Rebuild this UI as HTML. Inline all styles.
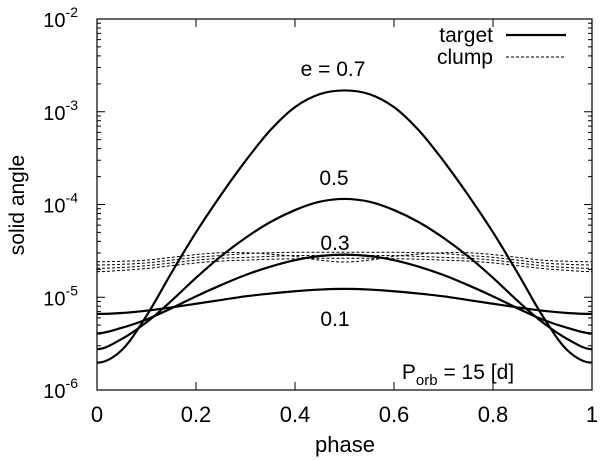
<!DOCTYPE html>
<html><head><meta charset="utf-8"><style>
html,body{margin:0;padding:0;background:#fff;}
svg{display:block;font-family:"Liberation Sans",sans-serif;}
</style></head><body>
<svg id="chart" width="600" height="460" viewBox="0 0 600 460" xmlns="http://www.w3.org/2000/svg"></svg>
<script>
const phases=[0,0.05,0.1,0.15,0.2,0.25,0.3,0.35,0.4,0.45,0.5,0.55,0.6,0.65,0.7,0.75,0.8,0.85,0.9,0.95,1];
// log10(solid angle), half orbit 0..0.5 (mirrored for 0.5..1)
const target07=[-5.705,-5.57,-5.20,-4.74,-4.30,-3.90,-3.53,-3.20,-2.95,-2.81,-2.77];
const target05=[-5.56,-5.45,-5.27,-5.04,-4.79,-4.56,-4.36,-4.19,-4.06,-3.97,-3.94];
const target03=[-5.39,-5.33,-5.24,-5.12,-4.99,-4.87,-4.76,-4.67,-4.60,-4.555,-4.54];
const target01=[-5.18,-5.17,-5.145,-5.11,-5.07,-5.03,-4.99,-4.96,-4.935,-4.917,-4.91];
const clump1=[-4.617,-4.612,-4.60,-4.57,-4.54,-4.52,-4.52,-4.535,-4.56,-4.60,-4.62];
const clump2=[-4.652,-4.645,-4.63,-4.60,-4.57,-4.55,-4.53,-4.52,-4.515,-4.515,-4.515];
const clump3=[-4.688,-4.68,-4.66,-4.63,-4.60,-4.58,-4.57,-4.56,-4.55,-4.55,-4.55];
const clump4=[-4.724,-4.71,-4.69,-4.66,-4.63,-4.61,-4.60,-4.59,-4.585,-4.58,-4.58];
const xTicks=[0,0.2,0.4,0.6,0.8,1];
const xTickLabels=["0","0.2","0.4","0.6","0.8","1"];
const yDecades=[-6,-5,-4,-3,-2];

const L=97,R=592,T=19,B=390;
const X=p=>L+(R-L)*p;
const Y=lg=>B-(B-T)*(lg+6)/4;
const NS="http://www.w3.org/2000/svg";
const svg=document.getElementById('chart');
function mk(tag,attrs,parent){const e=document.createElementNS(NS,tag);for(const k in attrs)e.setAttribute(k,attrs[k]);(parent||svg).appendChild(e);return e;}
function full(h){const r=h.slice();for(let i=h.length-2;i>=0;i--)r.push(h[i]);return r;}
function pathD(vals){
  const pts=phases.map((p,i)=>[X(p),Y(vals[i])]);
  const n=pts.length;
  const get=j=>{
    if(j<0){return [2*pts[0][0]-pts[-j][0],pts[-j][1]];}
    if(j>n-1){const k=2*(n-1)-j;return [2*pts[n-1][0]-pts[k][0],pts[k][1]];}
    return pts[j];
  };
  let d='M'+pts[0][0].toFixed(2)+','+pts[0][1].toFixed(2);
  for(let i=0;i<n-1;i++){
    const p0=get(i-1),p1=pts[i],p2=pts[i+1],p3=get(i+2);
    const c1=[p1[0]+(p2[0]-p0[0])/6,p1[1]+(p2[1]-p0[1])/6];
    const c2=[p2[0]-(p3[0]-p1[0])/6,p2[1]-(p3[1]-p1[1])/6];
    d+='C'+c1[0].toFixed(2)+','+c1[1].toFixed(2)+' '+c2[0].toFixed(2)+','+c2[1].toFixed(2)+' '+p2[0].toFixed(2)+','+p2[1].toFixed(2);
  }
  return d;
}
const frame=mk('rect',{x:L,y:T,width:R-L,height:B-T,fill:'none',stroke:'#000','stroke-width':1.2});


xTicks.forEach((t,i)=>{
  const tk=mk('path',{d:`M${X(t)},${B}v-8M${X(t)},${T}v8`,stroke:'#000','stroke-width':1});
  
  
  const lb=mk('text',{x:X(t),y:B+32,'font-size':22,'text-anchor':'middle'});
  lb.textContent=xTickLabels[i];
  
  
});
yDecades.forEach(dc=>{
  const y=Y(dc);
  const tk=mk('path',{d:`M${L},${y}h8M${R},${y}h-8`,stroke:'#000','stroke-width':1});
  
  
  const lb=mk('text',{x:L-19,y:y+8,'font-size':20,'text-anchor':'end'});
  lb.innerHTML='10<tspan dy="-10" font-size="14">'+dc+'</tspan>';
  
  
  if(dc<-2){for(let m=2;m<=9;m++){const yy=Y(dc+Math.log10(m));
    const mt=mk('path',{d:`M${L},${yy}h4M${R},${yy}h-4`,stroke:'#000','stroke-width':1});
    
    }}
});
[[target07,'target-e07'],[target05,'target-e05'],[target03,'target-e03'],[target01,'target-e01']].forEach(([s,n])=>{
  const p=mk('path',{d:pathD(full(s)),fill:'none',stroke:'#000','stroke-width':2.2});
  
  
});
[[clump1,'clump-1'],[clump2,'clump-2'],[clump3,'clump-3'],[clump4,'clump-4']].forEach(([s,n])=>{
  const p=mk('path',{d:pathD(full(s)),fill:'none',stroke:'#000','stroke-width':1,'stroke-dasharray':'3,2'});
  
  
});
function txt(x,y,s,name,anchor,size){const t=mk('text',{x:x,y:y,'font-size':size||21,'text-anchor':anchor||'middle'});t.innerHTML=s;
  
  return t;}
txt(333,76,'e = 0.7','label-e07');
txt(334,185,'0.5','label-e05');
txt(335,250,'0.3','label-e03');
txt(335,326,'0.1','label-e01');
txt(458,379,'P<tspan dy="6" font-size="15">orb</tspan><tspan dy="-6"> = 15 [d]</tspan>','period-label','middle',21);
txt(345,452,'phase','x-axis-title','middle',22);
const yt=txt(0,0,'solid angle','y-axis-title','middle',21);
yt.setAttribute('transform','translate(24,205) rotate(-90)');
txt(493,42,'target','legend-target-label','end',21);
txt(493,64,'clump','legend-clump-label','end',21);
const l1=mk('line',{x1:506,y1:35,x2:566,y2:35,stroke:'#000','stroke-width':2.2});


const l2=mk('line',{x1:506,y1:57,x2:566,y2:57,stroke:'#000','stroke-width':1,'stroke-dasharray':'3,2'});


</script>
</body></html>
